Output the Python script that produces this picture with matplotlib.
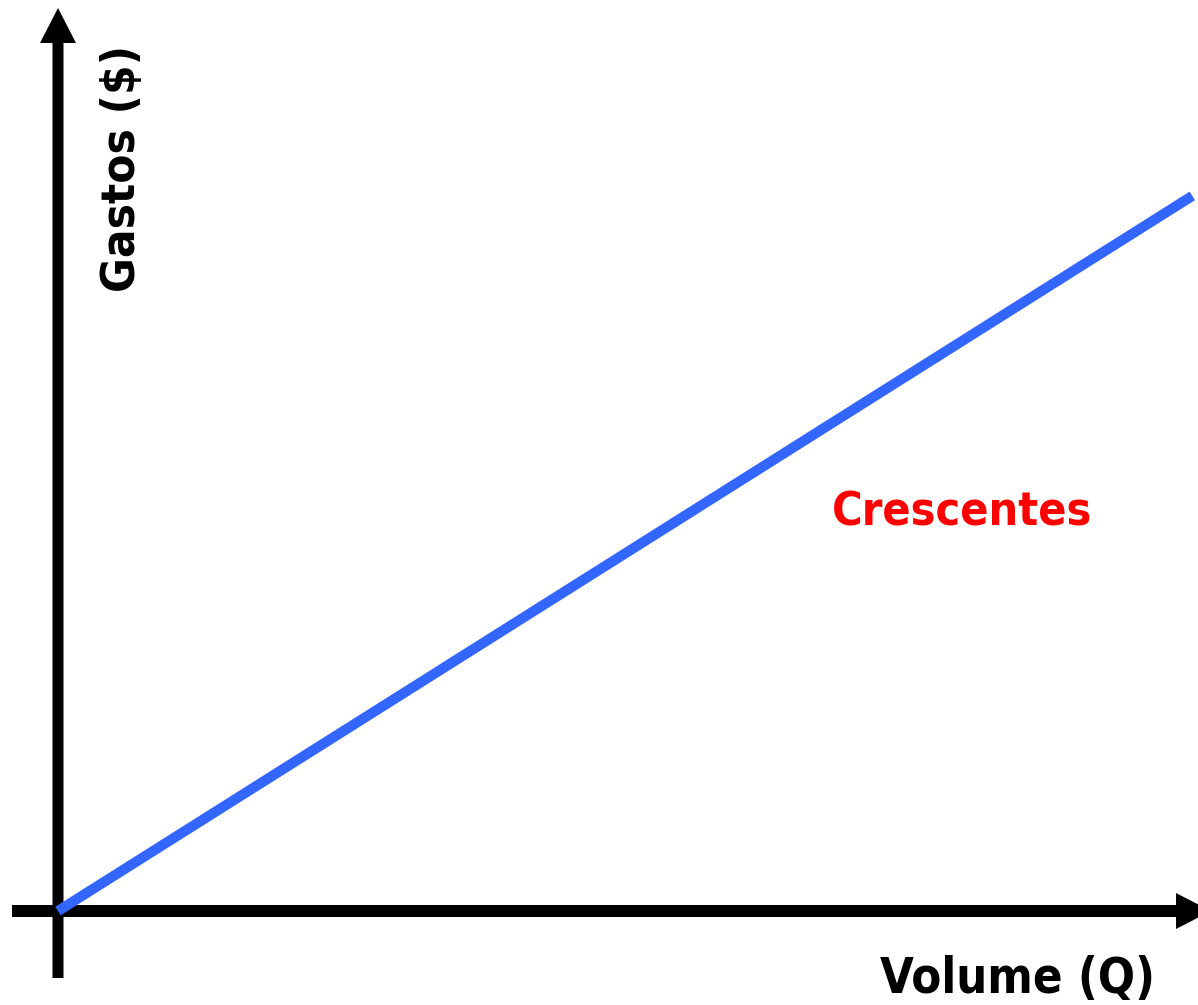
import matplotlib
matplotlib.use("Agg")
import matplotlib.pyplot as plt
from matplotlib.patches import FancyArrow

# data: expenses grow with volume
volume = [0, 99.5]
gastos = [0, 78.5]

xlabel = "Volume (Q)"
ylabel = "Gastos ($)"
curve_label = "Crescentes"

W, H = 1198, 1005
fig = plt.figure(figsize=(W/100, H/100), dpi=100)

# overlay in pixel coords for the hand-drawn axes and labels
deco = fig.add_axes([0, 0, 1, 1])
deco.set_xlim(0, W)
deco.set_ylim(H, 0)
deco.axis('off')

ox, oy = 58, 911   # origin in pixels

# data axes, lower left corner at the origin
ax = fig.add_axes([ox/W, (H-oy)/H, 1 - ox/W, oy/H])
ax.set_xlim(0, 100)
ax.set_ylim(0, 100)
ax.axis('off')
ax.patch.set_alpha(0)

ax.plot(volume, gastos, color='#3366FF', linewidth=7.3,
        solid_capstyle='butt', clip_on=False, zorder=3)

# axes arrows
deco.add_patch(FancyArrow(ox, 978, 0, 8-978, width=11, head_width=36,
                          head_length=35, length_includes_head=True,
                          color='k', lw=0))
deco.add_patch(FancyArrow(12, oy, 1211-12, 0, width=12, head_width=36,
                          head_length=35, length_includes_head=True,
                          color='k', lw=0))

font = dict(family='DejaVu Sans', stretch='condensed', fontweight='bold')
deco.text(962, 525, curve_label, color='#FF0000', fontsize=33.5,
          ha='center', va='baseline', **font)
deco.text(880, 993, xlabel, color='k', fontsize=35,
          ha='left', va='baseline', **font)
deco.text(135, 292, ylabel, color='k', fontsize=34,
          rotation=90, rotation_mode='anchor', ha='left', va='baseline', **font)

fig.savefig("out.png", dpi=100)
